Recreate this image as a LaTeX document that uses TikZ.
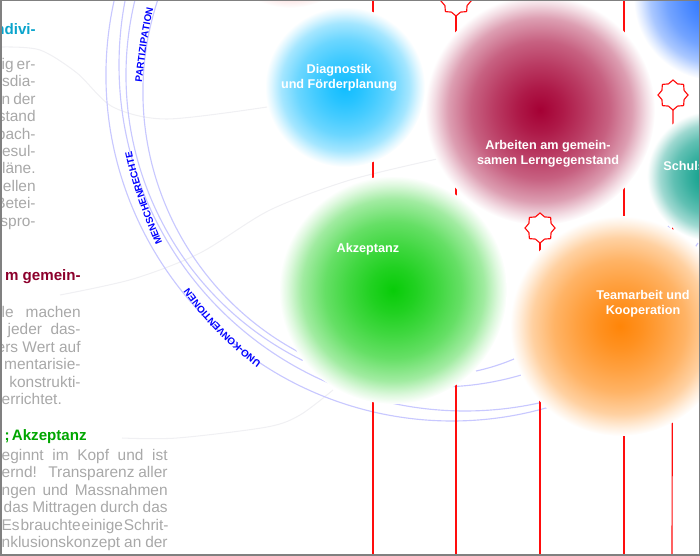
\documentclass[tikz,border=0pt]{standalone}
\usepackage{xcolor}
\usepackage{fontspec}
\setmainfont{Liberation Sans}
\usetikzlibrary{shapes.geometric,decorations.text}

\definecolor{diagcol}{HTML}{10BDFF}
\definecolor{arbcol}{HTML}{A50034}
\definecolor{akzcol}{HTML}{08CC08}
\definecolor{teamcol}{HTML}{FF8508}
\definecolor{schulcol}{HTML}{009A85}
\definecolor{topblue}{HTML}{1E6CFF}
\definecolor{toppink}{HTML}{F08080}
\definecolor{arccol}{HTML}{C8C8FF}
\definecolor{linkcol}{HTML}{F0F0F3}
\definecolor{bodycol}{HTML}{A8A8A8}

% one radial fade per bubble
\newcommand{\declarebubble}[2]{\pgfdeclareradialshading{#1}{\pgfpointorigin}{color(0bp)=(#2); color(5bp)=(#2!90!white); color(10bp)=(#2!77!white); color(15bp)=(#2!62!white); color(20bp)=(#2!38!white); color(23bp)=(#2!14!white); color(25bp)=(white); color(50bp)=(white)}}
\declarebubble{diagfade}{diagcol}
\declarebubble{arbfade}{arbcol}
\declarebubble{akzfade}{akzcol}
\declarebubble{teamfade}{teamcol}
\declarebubble{schulfade}{schulcol}
\declarebubble{bluefade}{topblue}
\declarebubble{pinkfade}{toppink}

\newcommand{\fitline}[2]{\makebox[#1cm][s]{\spaceskip=0.06em plus 1fil\relax #2}}
\newcommand{\arclabel}{\fontsize{5.6}{6}\selectfont\bfseries\color{blue}}

\begin{document}
\begin{tikzpicture}[
    x=0.02cm, y=-0.02cm,
    bubble/.style={circle, shade, inner sep=0pt},
    bubbletext/.style={text=white, font=\fontsize{7.2}{8.6}\selectfont\bfseries, align=center, inner sep=0pt},
    bodytext/.style={text=bodycol, font=\fontsize{8.8}{9.9}\selectfont, align=right, anchor=north east, inner sep=0pt},
    headtext/.style={font=\fontsize{8.6}{10}\selectfont\bfseries, anchor=east, inner sep=0pt},
    redline/.style={draw=red!95!white, line width=0.65pt},
    redstar/.style={star, star points=8, star point ratio=1.25, minimum size=0.6cm, inner sep=0pt, fill=white, redline},
    arcline/.style={draw=arccol, line width=0.65pt},
    linkline/.style={draw=linkcol, line width=0.6pt},
    arctext/.style={decorate, decoration={text along path, text align=center, text={#1}}}
]
    \useasboundingbox (0,0) rectangle (700,555);
    \clip (0,0) rectangle (700,555);

    % foot and head points of the red posts
    \coordinate (s1) at (456,1);
    \coordinate (s2) at (673,95);
    \coordinate (s3) at (540,228);
    \coordinate (t1) at (373,0);
    \coordinate (t2) at (624,0);
    \coordinate (b1) at (373,555);
    \coordinate (b2) at (456,555);
    \coordinate (b3) at (540,555);
    \coordinate (b4) at (624,555);
    \coordinate (b5) at (672,555);

    % faint links from the text to the bubbles
    \draw [linkline] plot [smooth] coordinates {(2,47) (40,50) (77,73) (113,107) (167,119) (267,107)};
    \draw [linkline] plot [smooth] coordinates {(60,295) (133,279) (200,253) (270,210) (350,180) (437,159)};
    \draw [linkline] plot [smooth] coordinates {(122,438) (177,438) (267,427) (300,415) (333,390)};

    % the rings
    \draw [arcline] (452,75) ++(192.4:346) arc [start angle=192.4, end angle=74, radius=346];
    \draw [arcline] (465,65) ++(190.8:346) arc [start angle=190.8, end angle=77.4, radius=346];
    \draw [arcline] (445,75) ++(193.7:319) arc [start angle=193.7, end angle=116.5, radius=319];
    \draw [arcline] (438,92) ++(198.2:295) arc [start angle=198.2, end angle=73.7, radius=295];
    \draw [arcline] (476,371) .. controls (490,368) and (502,364) .. (514,359);
    \draw [arcline] (668,226) -- (671,230);
    \draw [arcline] (698,243) -- (694,249);

    \path [arctext=|\arclabel|PARTIZIPATION] (142,81) .. controls (145,55) and (148,32) .. (153,10);
    \path [arctext=|\arclabel|MENSCHENRECHTE] (162,242) .. controls (146,205) and (137,175) .. (132,152);
    \path [arctext=|\arclabel|UNO-KONVENTIONEN] (261,362) .. controls (238,345) and (210,318) .. (189,288);

    % red posts, they run behind the bubbles
    \draw [redline] (t1) -- (b1);
    \draw [redline] (s1) -- (b2);
    \draw [redline] (s3) -- (b3);
    \draw [redline] (t2) -- (b4);
    \draw [redline] (s2) -- (b5);

    \node [bubble, shading=pinkfade, minimum size=3.12cm] (pink) at (290,-70) {};
    \node [bubble, shading=bluefade, minimum size=3.3cm] (topblue) at (716,-2) {};
    \node [bubble, shading=diagfade, minimum size=3.2cm] (diag) at (345,87) {};
    \node [bubble, shading=arbfade, minimum size=4.6cm] (arb) at (540,110) {};
    \node [bubble, shading=schulfade, minimum size=2.6cm] (schul) at (712,176) {};
    \node [bubble, shading=teamfade, minimum size=4.4cm] (team) at (620,326) {};
    \node [bubble, shading=akzfade, minimum size=4.56cm] (akz) at (393,290) {};

    \node [redstar] (star1) at (s1) {};
    \node [redstar] (star2) at (s2) {};
    \node [redstar] (star3) at (s3) {};

    \node [bubbletext] (diaglabel) at (339,78) {Diagnostik\\und Förderplanung};
    \node [bubbletext] (arblabel) at (548,154) {Arbeiten am gemein-\\samen Lerngegenstand};
    \node [bubbletext] (akzlabel) at (368,249) {Akzeptanz};
    \node [bubbletext] (teamlabel) at (643,304) {Teamarbeit und\\Kooperation};
    \node [bubbletext, anchor=west] (schullabel) at (663,166) {Schuls};

    \node [headtext, text=diagcol!60!teal] (head1) at (36,29) {ndivi-};
    \node [bodytext] (body1) at (36,58) {\fitline{0.68}{ig er-}\\sdia-\\\fitline{0.68}{n der}\\stand\\pach-\\resul-\\läne.\\uellen\\Betei-\\spro-};

    \node [headtext, text=arbcol!85!black] (head2) at (81,277) {m gemein-};
    \node [bodytext] (body2) at (81,306) {\fitline{1.58}{le machen}\\\fitline{1.46}{jeder das-}\\ers Wert auf\\mentarisie-\\konstrukti-\\\makebox[1.58cm][l]{errichtet.}};

    \node [headtext, text=green!65!black] (head3) at (87,437) {;\hspace{0.15em}Akzeptanz};
    \node [bodytext] (body3) at (168,449) {\fitline{3.32}{eginnt im Kopf und ist}\\\fitline{3.32}{ernd! Transparenz aller}\\\fitline{3.32}{ngen und Massnahmen}\\\fitline{3.28}{das Mittragen durch das}\\\fitline{3.32}{Es brauchte einige Schrit-}\\\fitline{3.32}{nklusionskonzept an der}};

    \draw [draw=gray, line width=1.5pt] (0,0) rectangle (700,555);
    \fill [gray] (0,0) rectangle (2,555);
\end{tikzpicture}
\end{document}
